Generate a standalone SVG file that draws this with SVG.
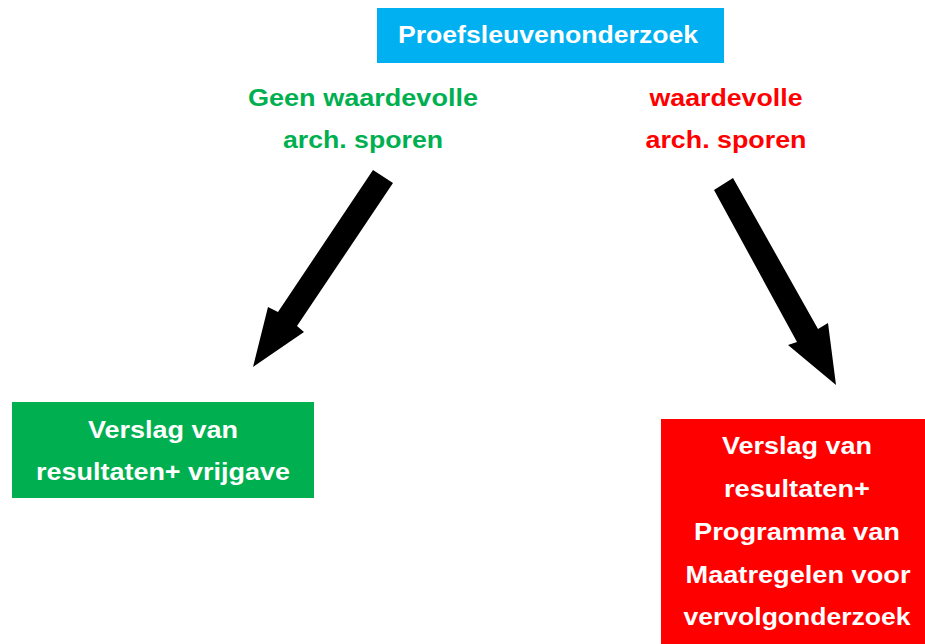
<svg xmlns="http://www.w3.org/2000/svg" width="925" height="644" viewBox="0 0 925 644">
<style>
text{font-family:"Liberation Sans",Arial,sans-serif;font-weight:bold;font-size:24px;text-anchor:middle}
.w{fill:#fff}.g{fill:#00B050}.r{fill:#FF0000}
.arrow{fill:#000}
</style>
<rect width="925" height="644" fill="#fff"/>
<g id="top">
<rect x="377" y="8" width="347" height="55" fill="#00B0F0"/>
<text class="w" x="548" y="43" textLength="300" lengthAdjust="spacingAndGlyphs">Proefsleuvenonderzoek</text>
</g>
<g id="label-geen">
<text class="g" x="363" y="106" textLength="230" lengthAdjust="spacingAndGlyphs">Geen waardevolle</text>
<text class="g" x="363" y="148" textLength="160" lengthAdjust="spacingAndGlyphs">arch. sporen</text>
</g>
<g id="label-waardevol">
<text class="r" x="726" y="106" textLength="153" lengthAdjust="spacingAndGlyphs">waardevolle</text>
<text class="r" x="726" y="148" textLength="161" lengthAdjust="spacingAndGlyphs">arch. sporen</text>
</g>
<g id="connectors">
<polygon class="arrow" points="373,170 393,183 297,326 304,332 253,367 268,307 278,312"/>
<polygon class="arrow" points="714,190 733,178 818,329 828,323 836,385 788,345 797,342"/>
</g>
<g id="vrijgave">
<rect x="12" y="402" width="302" height="96" fill="#00B050"/>
<text class="w" x="163" y="438" textLength="150" lengthAdjust="spacingAndGlyphs">Verslag van</text>
<text class="w" x="163" y="480" textLength="254" lengthAdjust="spacingAndGlyphs">resultaten+ vrijgave</text>
</g>
<g id="vervolg">
<rect x="661" y="419" width="264" height="225" fill="#FF0000"/>
<text class="w" x="797" y="454" textLength="150" lengthAdjust="spacingAndGlyphs">Verslag van</text>
<text class="w" x="797" y="497" textLength="146" lengthAdjust="spacingAndGlyphs">resultaten+</text>
<text class="w" x="797" y="540" textLength="206" lengthAdjust="spacingAndGlyphs">Programma van</text>
<text class="w" x="798" y="583" textLength="225" lengthAdjust="spacingAndGlyphs">Maatregelen voor</text>
<text class="w" x="797" y="625" textLength="227" lengthAdjust="spacingAndGlyphs">vervolgonderzoek</text>
</g>
</svg>
